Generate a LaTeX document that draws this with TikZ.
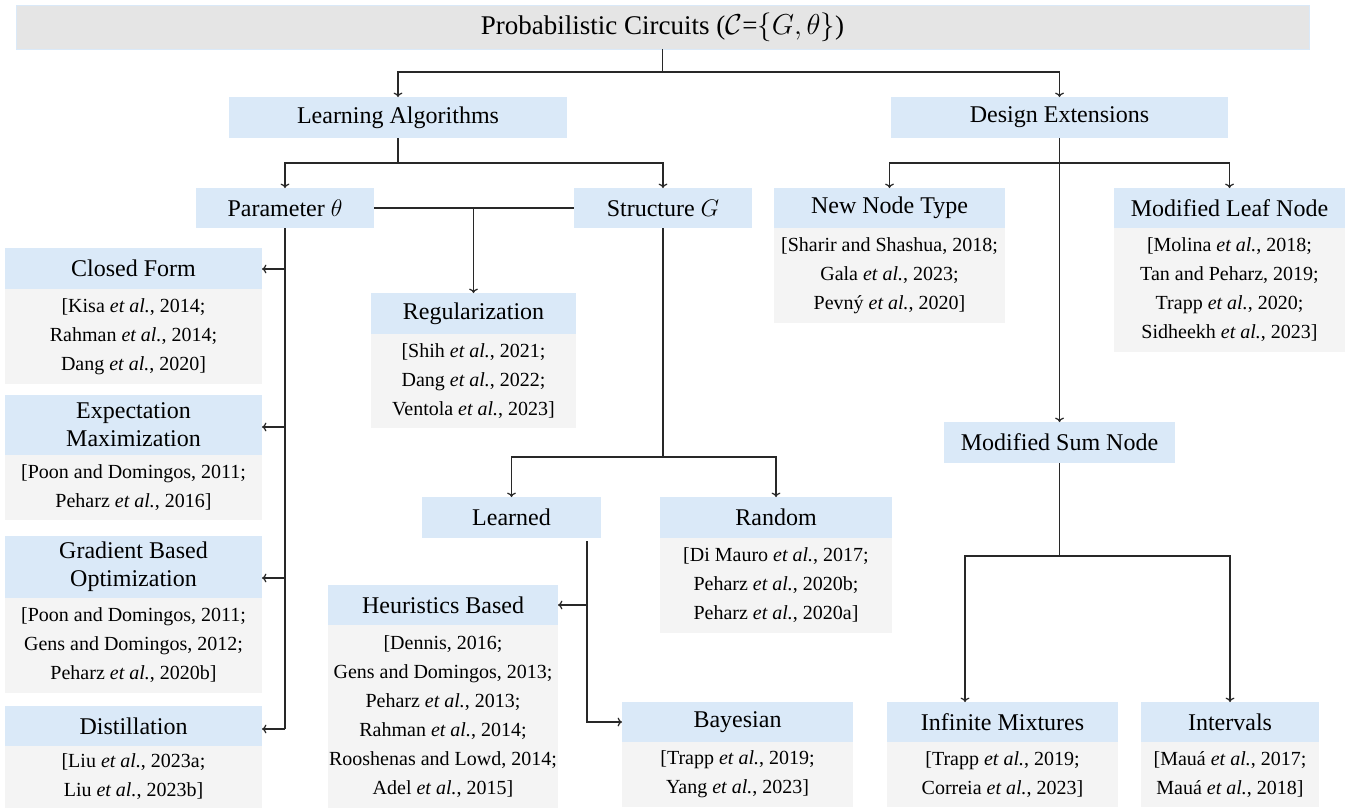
\documentclass[tikz,border=0pt]{standalone}
\usepackage{fontspec}
\setmainfont{Liberation Serif}
\usetikzlibrary{arrows.meta}
\definecolor{hdrblue}{RGB}{218,233,248}
\definecolor{citegray}{RGB}{244,244,244}
\definecolor{titlegray}{RGB}{229,229,229}
\definecolor{linecol}{RGB}{40,40,40}
\newcommand{\EtAl}{\textit{et al.}}
\tikzset{
  box/.style={rectangle, inner sep=0pt, outer sep=0pt, anchor=north west, align=center},
  hdr/.style={box, fill=hdrblue, font=\fontsize{12}{14}\selectfont},
  citebox/.style={box, fill=citegray, font=\fontsize{10}{14.5}\selectfont},
  conn/.style={draw=linecol, line width=0.6pt},
  arr/.style={conn, -{To[length=2.2pt,width=4.4pt]}},
}
\begin{document}
\begin{tikzpicture}[x=0.5pt,y=-0.5pt]
\useasboundingbox (0,0) rectangle (1348,811);

% title
\node[box, fill=titlegray, draw=hdrblue, line width=0.5pt, font=\fontsize{13.5}{16}\selectfont,
      minimum width=646.5pt, minimum height=22pt] (title) at (16,5)
      {Probabilistic Circuits (\(\mathcal{C}\)=\(\{G,\theta\}\))};

% level 1
\node[hdr, minimum width=169pt, minimum height=20.5pt] (la) at (229,97) {Learning Algorithms};
\node[hdr, minimum width=168.5pt, minimum height=20.5pt] (de) at (891,97) {Design Extensions};

% level 2
\node[hdr, minimum width=89pt, minimum height=20pt] (par) at (196,188) {Parameter \(\theta\)};
\node[hdr, minimum width=89pt, minimum height=20pt] (str) at (574,188) {Structure \(G\)};

\node[hdr, minimum width=115.5pt, minimum height=20pt] (nnt) at (774,188) {New Node Type};
\node[citebox, minimum width=115.5pt, minimum height=47.5pt] (nntc) at (nnt.south west)
  {[Sharir and Shashua, 2018;\\ Gala \EtAl, 2023;\\ Pevný \EtAl, 2020]};

\node[hdr, minimum width=115.5pt, minimum height=20pt] (mln) at (1114,188) {Modified Leaf Node};
\node[citebox, minimum width=115.5pt, minimum height=62pt] (mlnc) at (mln.south west)
  {[Molina \EtAl, 2018;\\ Tan and Peharz, 2019;\\ Trapp \EtAl, 2020;\\ Sidheekh \EtAl, 2023]};

% parameter column
\node[hdr, minimum width=128.5pt, minimum height=20.5pt] (cf) at (5,248) {Closed Form};
\node[citebox, minimum width=128.5pt, minimum height=47.5pt] (cfc) at (cf.south west)
  {[Kisa \EtAl, 2014;\\ Rahman \EtAl, 2014;\\ Dang \EtAl, 2020]};

\node[hdr, minimum width=128.5pt, minimum height=30pt] (em) at (5,395) {Expectation\\ Maximization};
\node[citebox, minimum width=128.5pt, minimum height=32.5pt] (emc) at (em.south west)
  {[Poon and Domingos, 2011;\\ Peharz \EtAl, 2016]};

\node[hdr, minimum width=128.5pt, minimum height=31pt] (gr) at (5,536) {Gradient Based\\ Optimization};
\node[citebox, minimum width=128.5pt, minimum height=47.5pt] (grc) at (gr.south west)
  {[Poon and Domingos, 2011;\\ Gens and Domingos, 2012;\\ Peharz \EtAl, 2020b]};

\node[hdr, minimum width=128.5pt, minimum height=20pt] (di) at (5,706) {Distillation};
\node[citebox, minimum width=128.5pt, minimum height=31pt] (dic) at (di.south west)
  {[Liu \EtAl, 2023a;\\ Liu \EtAl, 2023b]};

% regularization
\node[hdr, minimum width=102.5pt, minimum height=20.5pt] (reg) at (371,293) {Regularization};
\node[citebox, minimum width=102.5pt, minimum height=47pt] (regc) at (reg.south west)
  {[Shih \EtAl, 2021;\\ Dang \EtAl, 2022;\\ Ventola \EtAl, 2023]};

% structure subtree
\node[hdr, minimum width=89.5pt, minimum height=20.5pt] (lrn) at (422,497) {Learned};
\node[hdr, minimum width=116pt, minimum height=20.5pt] (rnd) at (660,497) {Random};
\node[citebox, minimum width=116pt, minimum height=47.5pt] (rndc) at (rnd.south west)
  {[Di Mauro \EtAl, 2017;\\ Peharz \EtAl, 2020b;\\ Peharz \EtAl, 2020a]};

\node[hdr, minimum width=115pt, minimum height=20pt] (hb) at (328,585) {Heuristics Based};
\node[citebox, minimum width=115pt, minimum height=91.5pt] (hbc) at (hb.south west)
  {[Dennis, 2016;\\ Gens and Domingos, 2013;\\ Peharz \EtAl, 2013;\\ Rahman \EtAl, 2014;\\ Rooshenas and Lowd, 2014;\\ Adel \EtAl, 2015]};

\node[hdr, minimum width=115.5pt, minimum height=20pt] (by) at (622,702) {Bayesian};
\node[citebox, minimum width=115.5pt, minimum height=32.5pt] (byc) at (by.south west)
  {[Trapp \EtAl, 2019;\\ Yang \EtAl, 2023]};

% design extensions subtree
\node[hdr, minimum width=115.5pt, minimum height=20.5pt] (msn) at (944,422) {Modified Sum Node};

\node[hdr, minimum width=115.5pt, minimum height=20pt] (im) at (887,702) {Infinite Mixtures};
\node[citebox, minimum width=115.5pt, minimum height=32.5pt] (imc) at (im.south west)
  {[Trapp \EtAl, 2019;\\ Correia \EtAl, 2023]};

\node[hdr, minimum width=89pt, minimum height=20pt] (iv) at (1141,702) {Intervals};
\node[citebox, minimum width=89pt, minimum height=32.5pt] (ivc) at (iv.south west)
  {[Mauá \EtAl, 2017;\\ Mauá \EtAl, 2018]};

% ---------- connectors ----------
\coordinate (j1) at (title.south |- 0,72);
\draw[conn] (title.south) -- (j1);
\draw[arr] (j1) -| (la.north);
\draw[arr] (j1) -| (de.north);

\coordinate (j2) at (la.south |- 0,163);
\draw[conn] (la.south) -- (j2);
\draw[arr] (j2) -| (par.north);
\draw[arr] (j2) -| (str.north);

\draw[conn] (par.east) -- (str.west);
\draw[arr] (reg.north |- par.east) -- (reg.north);

\coordinate (pt) at (par.south |- 0,729);
\draw[conn] (par.south) -- (pt);
\draw[arr] (par.south |- 0,269) -- (cf.east |- 0,269);
\draw[arr] (par.south |- 0,427) -- (em.east |- 0,427);
\draw[arr] (par.south |- 0,578) -- (gr.east |- 0,578);
\draw[arr] (pt) -- (di.east |- pt);

\coordinate (j4) at (str.south |- 0,457);
\draw[conn] (str.south) -- (j4);
\draw[arr] (j4) -| (lrn.north);
\draw[arr] (j4) -| (rnd.north);

\coordinate (j5) at (587,541);
\draw[arr] (j5) |- (by.west);
\draw[arr] (j5 |- hb.east) -- (hb.east);

\coordinate (j6) at (de.south |- 0,163);
\draw[arr] (de.south) -- (msn.north);
\draw[arr] (j6) -| (nnt.north);
\draw[arr] (j6) -| (mln.north);

\coordinate (j7) at (msn.south |- 0,556);
\coordinate (imin) at (965,702);
\draw[conn] (msn.south) -- (j7);
\draw[arr] (j7) -| (imin);
\draw[arr] (j7) -| (iv.north);
\end{tikzpicture}
\end{document}
